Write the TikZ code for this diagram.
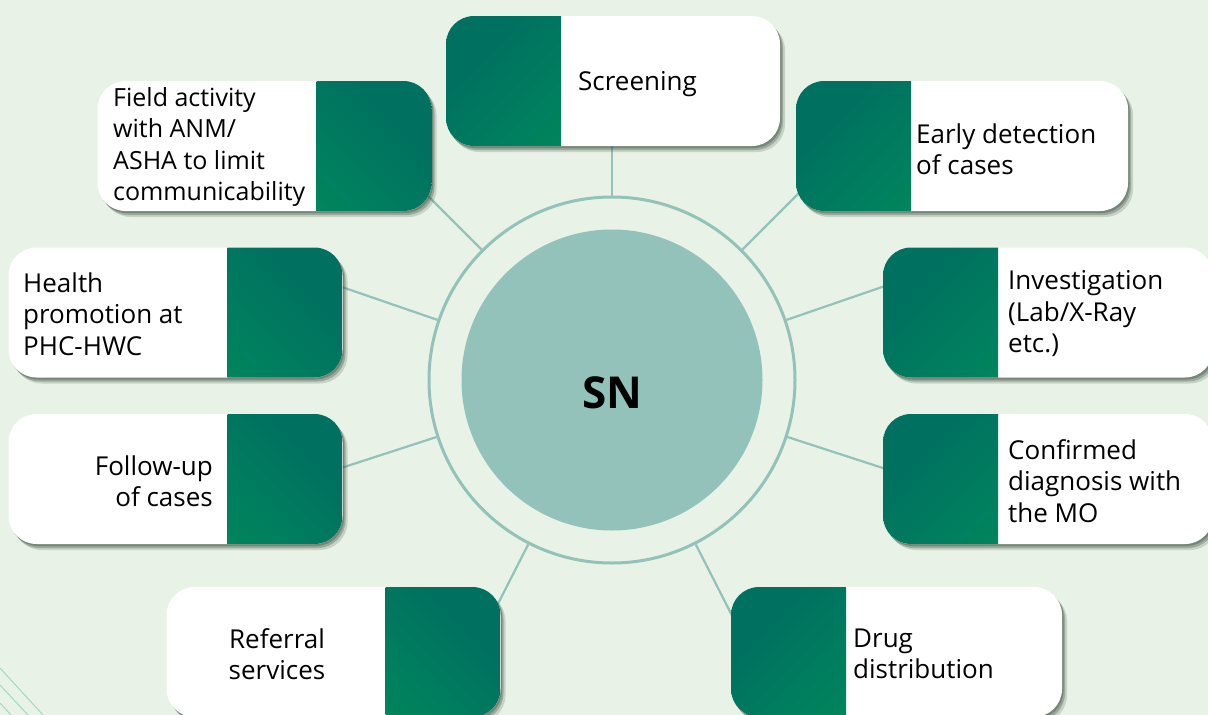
\documentclass[tikz,border=0pt]{standalone}
\usepackage{fontspec}
\setmainfont{Open Sans}
\usetikzlibrary{shadows,calc}
\definecolor{bg}{RGB}{232,242,231}
\definecolor{ringc}{RGB}{147,194,186}
\definecolor{gdark}{RGB}{0,112,96}
\definecolor{gbright}{RGB}{0,152,90}
\definecolor{deco}{RGB}{160,218,190}
\definecolor{shad}{RGB}{50,70,55}
\begin{document}
\begin{tikzpicture}[x=1pt,y=-1pt,
  spoke/.style={draw=ringc, line width=2.2pt},
  box/.style={rectangle, rounded corners=28pt, fill=white, minimum width=334pt, minimum height=130pt, inner sep=0pt,
    drop shadow={shadow xshift=5pt, shadow yshift=-6pt, opacity=0.18, fill=shad},
    drop shadow={shadow xshift=3pt, shadow yshift=-4pt, opacity=0.3, fill=shad},
    drop shadow={shadow xshift=1.5pt, shadow yshift=-2pt, opacity=0.35, fill=shad}},
  gl/.style={path picture={\shade[sharp corners, top color=gdark, bottom color=gbright, shading angle=45]
      (path picture bounding box.north west) rectangle ([xshift=115pt]path picture bounding box.south west);}},
  gr/.style={path picture={\shade[sharp corners, top color=gdark, bottom color=gbright, shading angle=-45]
      ([xshift=-115pt]path picture bounding box.north east) rectangle (path picture bounding box.south east);}},
  lbl/.style={font=\fontsize{26}{31.5}\selectfont, inner sep=0pt, text=black},
]
\useasboundingbox (0,0) rectangle (1208,715);
\fill[bg] (0,0) rectangle (1208,715);
% corner decoration
\draw[deco, line width=1pt] (0,668) -- (43,715);
\draw[deco, line width=1pt] (0,685) -- (28,715);
\draw[deco, line width=1pt] (0,703) -- (11,715);

% centre
\node[circle, draw=ringc, line width=3pt, minimum size=366pt, inner sep=0pt] (ring) at (612,380) {};
\foreach \a in {90,45,135,19,161,-18,198,-63,-117}{
  \draw[spoke] (ring.\a) -- ($(ring.center)!1.8!(ring.\a)$);
}
\node[circle, fill=ringc, minimum size=301pt, inner sep=0pt] (core) at (612,380) {};
\node[font=\fontsize{44}{50}\selectfont\bfseries, inner sep=0pt] (sn) at (612,393) {SN};

% boxes
\node[box, gl] (scr) at (613,81) {};
\node[box, gr] (field) at (264.5,146) {};
\node[box, gl, minimum width=332pt] (early) at (962,146) {};
\node[box, gr] (health) at (175.5,312.5) {};
\node[box, gl, minimum width=330pt] (invest) at (1048,312.5) {};
\node[box, gr] (follow) at (175.5,479) {};
\node[box, gl, minimum width=330pt] (confirm) at (1048,479) {};
\node[box, gr] (referral) at (333.5,652) {};
\node[box, gl, minimum width=331pt] (drug) at (896.5,652) {};

% texts
\node[lbl, anchor=west, align=left] (scrt) at (578,84) {Screening};
\node[lbl, anchor=west, align=left, font=\fontsize{25}{31.5}\selectfont] (fieldt) at (113,147) {Field activity\\with ANM/\\ASHA to limit\\communicability};
\node[lbl, anchor=west, align=left] (earlyt) at (916,149) {Early detection\\of cases};
\node[lbl, anchor=west, align=left] (healtht) at (23,314) {Health\\promotion at\\PHC-HWC};
\node[lbl, anchor=west, align=left] (investt) at (1008,314) {Investigation\\(Lab/X-Ray\\etc.)};
\node[lbl, anchor=east, align=right] (followt) at (213,481) {Follow-up\\of cases};
\node[lbl, anchor=west, align=left] (confirmt) at (1008,481) {Confirmed\\diagnosis with\\the MO};
\node[lbl, align=center] (referralt) at (277,654) {Referral\\services};
\node[lbl, anchor=west, align=left] (drugt) at (853,654) {Drug\\distribution};
\end{tikzpicture}
\end{document}
